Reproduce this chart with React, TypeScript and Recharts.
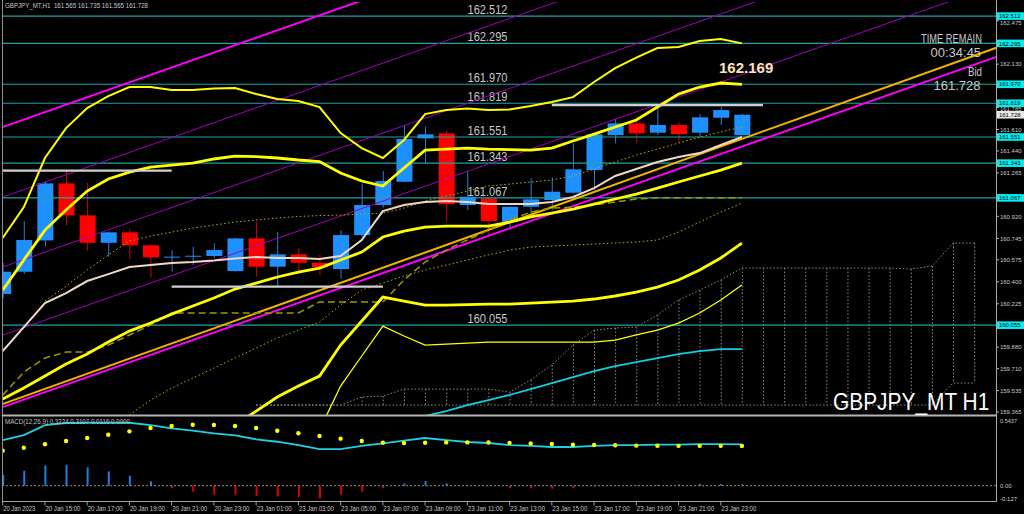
import React from 'react';
import { ComposedChart, Bar, Line, XAxis, YAxis, ReferenceLine } from 'recharts';

const FONT = "'Liberation Sans', Arial, sans-serif";

// ---- candles (GBPJPY H1, 20 Jan 13:00 .. 24 Jan 00:00) ----
const opens = [160.303, 160.48, 160.729, 161.182, 160.928, 160.71, 160.793, 160.69, 160.594, 160.6, 160.605, 160.485, 160.745, 160.52, 160.618, 160.551, 160.501, 160.771, 161.01, 161.195, 161.54, 161.58, 161.01, 161.063, 160.877, 160.996, 161.05, 161.108, 161.288, 161.566, 161.659, 161.585, 161.646, 161.585, 161.704, 161.565];
const highs = [160.55, 160.882, 161.201, 161.283, 161.185, 160.8, 160.819, 160.7, 160.652, 160.679, 160.705, 160.75, 160.877, 160.798, 160.671, 160.613, 160.811, 161.182, 161.28, 161.646, 161.633, 161.601, 161.283, 161.07, 161.0, 161.222, 161.23, 161.5, 161.58, 161.694, 161.712, 161.805, 161.668, 161.733, 161.791, 161.735];
const lows = [160.27, 160.461, 160.679, 160.851, 160.647, 160.599, 160.581, 160.432, 160.48, 160.533, 160.59, 160.48, 160.44, 160.361, 160.48, 160.453, 160.427, 160.753, 160.99, 161.19, 161.341, 160.877, 160.97, 160.771, 160.829, 160.931, 160.97, 161.1, 161.129, 161.5, 161.505, 161.566, 161.505, 161.553, 161.646, 161.565];
const closes = [160.48, 160.732, 161.182, 160.928, 160.71, 160.793, 160.69, 160.594, 160.6, 160.607, 160.652, 160.745, 160.52, 160.618, 160.551, 160.515, 160.771, 161.01, 161.201, 161.535, 161.572, 161.016, 161.076, 160.883, 160.996, 161.055, 161.116, 161.294, 161.572, 161.659, 161.58, 161.646, 161.574, 161.707, 161.765, 161.728];

// ---- indicator lines ----
const bandOuter = [160.748, 160.994, 161.384, 161.622, 161.781, 161.876, 161.948, 161.948, 161.924, 161.924, 161.936, 161.94, 161.892, 161.853, 161.837, 161.789, 161.582, 161.463, 161.384, 161.527, 161.733, 161.765, 161.777, 161.765, 161.769, 161.797, 161.829, 161.868, 161.988, 162.099, 162.182, 162.258, 162.266, 162.314, 162.33, 162.295];
const bandMid = [160.334, 160.573, 160.811, 160.97, 161.121, 161.217, 161.272, 161.312, 161.328, 161.344, 161.376, 161.399, 161.395, 161.384, 161.368, 161.356, 161.264, 161.201, 161.161, 161.304, 161.447, 161.455, 161.463, 161.455, 161.451, 161.447, 161.463, 161.519, 161.574, 161.63, 161.686, 161.789, 161.892, 161.948, 161.98, 161.97];
const bandLow = [159.468, 159.555, 159.651, 159.746, 159.826, 159.921, 160.008, 160.072, 160.143, 160.207, 160.271, 160.342, 160.39, 160.438, 160.477, 160.509, 160.573, 160.636, 160.756, 160.803, 160.835, 160.843, 160.843, 160.843, 160.875, 160.915, 160.946, 160.978, 161.018, 161.058, 161.097, 161.145, 161.193, 161.241, 161.288, 161.343];
const bandLow2 = [null, null, null, null, null, null, null, null, null, null, null, 159.261, 159.372, 159.484, 159.571, 159.65, 159.897, 160.088, 160.278, 160.247, 160.215, 160.215, 160.219, 160.223, 160.223, 160.231, 160.239, 160.247, 160.263, 160.287, 160.318, 160.358, 160.414, 160.493, 160.589, 160.708];
const bandLow3 = [null, null, null, null, null, null, null, null, null, null, null, null, null, null, null, 159.221, 159.571, 159.81, 160.048, 159.969, 159.897, 159.905, 159.913, 159.921, 159.921, 159.921, 159.921, 159.921, 159.921, 159.937, 159.977, 160.016, 160.072, 160.152, 160.255, 160.374];
const maWheat = [159.849, 160.04, 160.231, 160.31, 160.406, 160.461, 160.517, 160.533, 160.549, 160.557, 160.569, 160.585, 160.597, 160.589, 160.589, 160.581, 160.605, 160.732, 160.962, 161.01, 161.034, 161.042, 161.034, 161.018, 161.018, 161.018, 161.034, 161.074, 161.145, 161.241, 161.296, 161.352, 161.392, 161.423, 161.487, 161.551];
const dotUpper = [null, null, 160.247, 160.366, 160.493, 160.613, 160.724, 160.764, 160.795, 160.827, 160.851, 160.875, 160.891, 160.907, 160.919, 160.926, 160.93, 160.938, 160.946, 160.986, 161.042, 161.082, 161.121, 161.161, 161.177, 161.193, 161.209, 161.241, 161.296, 161.352, 161.408, 161.455, 161.503, 161.55, 161.59, 161.63];
const dotLower = [null, null, null, null, null, null, 159.341, 159.46, 159.555, 159.635, 159.714, 159.794, 159.873, 159.953, 160.016, 160.08, 160.215, 160.334, 160.39, 160.446, 160.493, 160.533, 160.573, 160.613, 160.652, 160.676, 160.684, 160.692, 160.7, 160.708, 160.716, 160.732, 160.795, 160.875, 160.955, 161.026];
const kijun = [159.499, 159.682, 159.794, 159.841, 159.841, 159.897, 159.977, 160.056, 160.152, 160.152, 160.152, 160.152, 160.152, 160.152, 160.152, 160.239, 160.239, 160.239, 160.239, 160.414, 160.557, 160.652, 160.732, 160.811, 160.891, 160.954, 160.986, 160.994, 161.01, 161.034, 161.058, 161.067, 161.067, 161.067, 161.067, 161.067];
const cyanLine = [null, null, null, null, null, null, null, null, null, null, null, null, null, null, null, null, null, null, null, null, 159.333, 159.372, 159.42, 159.46, 159.5, 159.547, 159.595, 159.642, 159.69, 159.73, 159.762, 159.794, 159.825, 159.849, 159.865, 159.865];

// ---- cloud (bars 12 .. 46) ----
const cloudStart = 12;
const cloudTop = [159.42, 159.42, 159.42, 159.42, 159.42, 159.484, 159.491, 159.547, 159.547, 159.547, 159.547, 159.547, 159.523, 159.619, 159.738, 159.897, 160.016, 160.032, 160.04, 160.136, 160.255, 160.334, 160.414, 160.509, 160.509, 160.509, 160.509, 160.509, 160.509, 160.509, 160.509, 160.501, 160.525, 160.708, 160.708];
const cloudBottom = [159.42, 159.42, 159.42, 159.42, 159.42, 159.42, 159.42, 159.42, 159.42, 159.42, 159.42, 159.42, 159.42, 159.42, 159.42, 159.42, 159.42, 159.42, 159.42, 159.42, 159.42, 159.42, 159.42, 159.42, 159.42, 159.42, 159.42, 159.42, 159.42, 159.42, 159.42, 159.42, 159.42, 159.595, 159.595];

// ---- MACD ----
const macdLine = [0.356, 0.395, 0.473, 0.489, 0.491, 0.491, 0.491, 0.473, 0.448, 0.429, 0.409, 0.392, 0.362, 0.343, 0.317, 0.286, 0.286, 0.31, 0.331, 0.351, 0.372, 0.356, 0.341, 0.333, 0.317, 0.31, 0.302, 0.302, 0.31, 0.317, 0.317, 0.32, 0.321, 0.325, 0.324, 0.3224];
const macdSignal = [0.273, 0.296, 0.323, 0.349, 0.372, 0.398, 0.424, 0.45, 0.466, 0.476, 0.474, 0.466, 0.45, 0.429, 0.409, 0.388, 0.367, 0.349, 0.335, 0.333, 0.335, 0.338, 0.338, 0.337, 0.334, 0.33, 0.325, 0.32, 0.317, 0.315, 0.313, 0.312, 0.311, 0.311, 0.311, 0.3107];
const macdHist = [0.086, 0.117, 0.159, 0.164, 0.143, 0.112, 0.078, 0.034, -0.018, -0.047, -0.07, -0.07, -0.08, -0.085, -0.09, -0.098, -0.07, -0.047, -0.018, 0.018, 0.037, 0.018, 0.003, -0.004, -0.017, -0.02, -0.023, -0.018, -0.007, 0.002, 0.004, 0.008, 0.01, 0.014, 0.013, 0.0116];

// ---- levels, trend lines, ticks ----
const levels = [162.512, 162.295, 161.97, 161.819, 161.551, 161.343, 161.067, 160.055];
const bidPrice = 161.728;
const channelBase = [{ idx: -1, price: 159.345 }, { idx: 48, price: 162.244 }];
const channelOffsets = [2.226, 1.669, 1.113, 0.572, 0];
const goldLine = [{ idx: -1, price: 159.368 }, { idx: 48, price: 162.318 }];
const swingLines = [{ from: 0, to: 8, price: 161.283 }, { from: 8, to: 18, price: 160.361 }, { from: 26, to: 36, price: 161.805 }];
const priceTicks = [162.475, 162.13, 161.785, 161.61, 161.44, 161.265, 160.92, 160.745, 160.575, 160.4, 160.225, 159.88, 159.71, 159.535, 159.365];
const macdTicks = [0.5437, 0, -0.127];
const macdTickLabels = ['0.5437', '0.00', '-0.127'];
const tickIdx = [0, 2, 4, 6, 8, 10, 12, 14, 16, 18, 20, 22, 24, 26, 28, 30, 32, 34];
const timeLabels = ['20 Jan 2023', '20 Jan 15:00', '20 Jan 17:00', '20 Jan 19:00', '20 Jan 21:00', '20 Jan 23:00', '23 Jan 01:00', '23 Jan 03:00', '23 Jan 05:00', '23 Jan 07:00', '23 Jan 09:00', '23 Jan 11:00', '23 Jan 13:00', '23 Jan 15:00', '23 Jan 17:00', '23 Jan 19:00', '23 Jan 21:00', '23 Jan 23:00'];

const X_DOMAIN: [number, number] = [-0.0331, 47.031];
const Y_DOMAIN: [number, number] = [159.341, 162.624];
const M_DOMAIN: [number, number] = [-0.127, 0.5437];

const TOTAL = 47;
const rows = Array.from({ length: TOTAL }, (_, i) => {
  const has = i < opens.length;
  const ci = i - cloudStart;
  const inCloud = ci >= 0 && ci < cloudTop.length;
  return {
    idx: i,
    o: has ? opens[i] : null,
    h: has ? highs[i] : null,
    l: has ? lows[i] : null,
    c: has ? closes[i] : null,
    candle: has ? [lows[i], highs[i]] : null,
    bandOuter: bandOuter[i] ?? null,
    bandMid: bandMid[i] ?? null,
    bandLow: bandLow[i] ?? null,
    bandLow2: bandLow2[i] ?? null,
    bandLow3: bandLow3[i] ?? null,
    maWheat: maWheat[i] ?? null,
    dotUpper: dotUpper[i] ?? null,
    dotLower: dotLower[i] ?? null,
    kijun: kijun[i] ?? null,
    cyanLine: cyanLine[i] ?? null,
    cloudTop: inCloud ? cloudTop[ci] : null,
    cloudBottom: inCloud ? cloudBottom[ci] : null,
    cloud: inCloud ? [cloudBottom[ci], cloudTop[ci]] : null,
    macd: macdLine[i] ?? null,
    signal: macdSignal[i] ?? null,
    hist: macdHist[i] ?? null,
  };
});

const CandleShape = (props: any) => {
  const { x, y, width, height, payload } = props;
  if (!payload || payload.o == null) return null;
  const { o, h, l, c } = payload;
  const top = Math.min(y, y + height);
  const bot = Math.max(y, y + height);
  const span = h - l || 1e-9;
  const yOf = (v: number) => top + ((h - v) / span) * (bot - top);
  const up = c >= o;
  const fill = up ? '#1E90FF' : '#FF0000';
  const wick = up ? '#2A7FD4' : '#D00000';
  const cx = x + width / 2;
  const bTop = yOf(Math.max(o, c));
  const bBot = yOf(Math.min(o, c));
  return (
    <g>
      <line x1={cx} x2={cx} y1={top} y2={bot} stroke={wick} strokeWidth={1} />
      <rect x={x} y={bTop} width={width} height={Math.max(bBot - bTop, 1)} fill={fill} />
    </g>
  );
};

const CloudShape = (props: any) => {
  const { x, y, width, height, payload } = props;
  if (!payload || payload.cloudTop == null) return null;
  const top = Math.min(y, y + height);
  const bot = Math.max(y, y + height);
  if (bot - top < 2) return null;
  const cx = x + width / 2;
  return <line x1={cx} x2={cx} y1={top} y2={bot} stroke="#8c8c8c" strokeWidth={1} strokeDasharray="1.5 2" />;
};

const HistShape = (props: any) => {
  const { x, y, width, height, payload } = props;
  if (!payload || payload.hist == null) return null;
  const top = Math.min(y, y + height);
  const h = Math.abs(height);
  return <rect x={x} y={top} width={width} height={Math.max(h, 0.5)} fill={payload.hist >= 0 ? '#1E7FE0' : '#E00000'} />;
};

const LevelTag = (props: any) => {
  const { viewBox, lvl, inner } = props;
  if (!viewBox) return null;
  const y = viewBox.y;
  const right = viewBox.x + viewBox.width;
  const txt = Number(lvl).toFixed(3);
  return (
    <g>
      {inner && (
        <text x={viewBox.x + 465.5} y={y - 2.3} fontSize={12.5} fill="#c8c8c8" fontFamily={FONT} textLength={40} lengthAdjust="spacingAndGlyphs">
          {txt}
        </text>
      )}
      <rect x={right + 1} y={y - 3.8} width={27} height={7.6} fill={inner ? '#00F0F0' : '#E8E8E8'} />
      <text x={right + 3} y={y + 2.2} fontSize={6.2} fill="#000" fontFamily={FONT} textLength={21.5} lengthAdjust="spacingAndGlyphs">
        {txt}
      </text>
    </g>
  );
};

const PriceTick = (props: any) => {
  const { x, y, payload } = props;
  const v = Number(payload.value);
  const txt = v.toFixed(3);
  const nudge = v === 162.475 ? 2.2 : v === 161.785 ? 1.2 : 0;
  return (
    <text x={x} y={y + 2.2 + nudge} fontSize={6.2} fill="#c8c8c8" fontFamily={FONT} textLength={21.5} lengthAdjust="spacingAndGlyphs">
      {txt}
    </text>
  );
};

const MacdTick = (props: any) => {
  const { x, y, payload, index } = props;
  const i = macdTicks.indexOf(payload.value);
  const txt = macdTickLabels[i >= 0 ? i : index] ?? '';
  const dy = i === 0 ? 7 : i === 2 ? -1.4 : 2.3;
  return (
    <text x={x} y={y + dy} fontSize={6.2} fill="#c8c8c8" fontFamily={FONT} textLength={txt.length * 2.85} lengthAdjust="spacingAndGlyphs">
      {txt}
    </text>
  );
};

const TimeTick = (props: any) => {
  const { x, y, payload } = props;
  const i = tickIdx.indexOf(payload.value);
  const label = timeLabels[i] ?? '';
  return (
    <g>
      <line x1={x} x2={x} y1={y} y2={y + 3.5} stroke="#a0a0a0" strokeWidth={1} />
      <text x={x + 0.5} y={y + 8.8} fontSize={6.3} fill="#c8c8c8" fontFamily={FONT} textLength={label.length * 2.92} lengthAdjust="spacingAndGlyphs">
        {label}
      </text>
    </g>
  );
};

// a text drawn with a font size that gives its natural width, stretched vertically
const Tall = ({ x, y, size, sy, fill, bold, children }: any) => (
  <text
    transform={`translate(${x} ${y}) scale(1 ${sy})`}
    x={0}
    y={0}
    fontSize={size}
    fill={fill}
    fontWeight={bold ? 'bold' : 'normal'}
    fontFamily={FONT}
  >
    {children}
  </text>
);

export default function App() {
  return (
    <div style={{ position: 'absolute', left: 0, top: 0, width: 1024, height: 514, background: '#000', overflow: 'hidden' }}>
      <div style={{ position: 'absolute', left: 0, top: 0 }}>
        <ComposedChart width={1024} height={416} data={rows} margin={{ top: 2, right: 0, bottom: 1, left: 2 }}>
          <XAxis type="number" dataKey="idx" domain={X_DOMAIN} allowDataOverflow hide />
          <XAxis xAxisId="cx" type="number" dataKey="idx" domain={X_DOMAIN} allowDataOverflow hide />
          <YAxis
            orientation="right"
            width={28}
            domain={Y_DOMAIN}
            allowDataOverflow
            ticks={priceTicks}
            interval={0}
            axisLine={false}
            tickLine={{ stroke: '#b0b0b0' }}
            tickSize={3}
            tickMargin={1}
            tick={(p: any) => <PriceTick {...p} />}
          />
          <YAxis yAxisId="cy" orientation="right" width={0} domain={Y_DOMAIN} allowDataOverflow hide />

          {levels.map((lv) => (
            <ReferenceLine key={'lv' + lv} y={lv} stroke="#1FA3A3" strokeWidth={1.2} label={<LevelTag lvl={lv} inner />} />
          ))}

          {channelOffsets.map((off, i) => {
            const outer = i === 0 || i === channelOffsets.length - 1;
            return (
              <ReferenceLine
                key={'ch' + i}
                segment={[
                  { x: channelBase[0].idx, y: channelBase[0].price + off },
                  { x: channelBase[1].idx, y: channelBase[1].price + off },
                ]}
                stroke={outer ? '#FF00FF' : '#A000B8'}
                strokeWidth={outer ? 2 : 1}
                ifOverflow="hidden"
              />
            );
          })}
          <ReferenceLine
            segment={[
              { x: goldLine[0].idx, y: goldLine[0].price },
              { x: goldLine[1].idx, y: goldLine[1].price },
            ]}
            stroke="#F0B400"
            strokeWidth={2}
            ifOverflow="hidden"
          />

          <Line dataKey="cloudTop" stroke="#8c8c8c" strokeWidth={1} strokeDasharray="1.5 2" dot={false} activeDot={false} isAnimationActive={false} />
          <Line dataKey="cloudBottom" stroke="#8c8c8c" strokeWidth={1} strokeDasharray="1.5 2" dot={false} activeDot={false} isAnimationActive={false} />
          <Bar xAxisId="cx" yAxisId="cy" dataKey="cloud" barSize={2} shape={(p: any) => <CloudShape {...p} />} isAnimationActive={false} />

          <Line dataKey="cyanLine" stroke="#10D0E0" strokeWidth={1.8} dot={false} activeDot={false} isAnimationActive={false} />
          <Line dataKey="kijun" stroke="#9A9A00" strokeWidth={1.5} strokeDasharray="7 4" dot={false} activeDot={false} isAnimationActive={false} />
          <Line dataKey="dotUpper" stroke="#B4B400" strokeWidth={1} strokeDasharray="1.5 2.5" dot={false} activeDot={false} isAnimationActive={false} />
          <Line dataKey="dotLower" stroke="#B4B400" strokeWidth={1} strokeDasharray="1.5 2.5" dot={false} activeDot={false} isAnimationActive={false} />

          <Bar dataKey="candle" barSize={16} shape={(p: any) => <CandleShape {...p} />} isAnimationActive={false} />

          <Line dataKey="maWheat" stroke="#F2D8C4" strokeWidth={2} dot={false} activeDot={false} isAnimationActive={false} />
          <Line dataKey="bandOuter" stroke="#FFFF00" strokeWidth={2} dot={false} activeDot={false} isAnimationActive={false} />
          <Line dataKey="bandMid" stroke="#FFFF00" strokeWidth={2.8} dot={false} activeDot={false} isAnimationActive={false} />
          <Line dataKey="bandLow" stroke="#FFFF00" strokeWidth={2.8} dot={false} activeDot={false} isAnimationActive={false} />
          <Line dataKey="bandLow2" stroke="#FFFF00" strokeWidth={2.8} dot={false} activeDot={false} isAnimationActive={false} />
          <Line dataKey="bandLow3" stroke="#FFFF00" strokeWidth={1.3} dot={false} activeDot={false} isAnimationActive={false} />

          {swingLines.map((s) => (
            <ReferenceLine
              key={'sw' + s.from}
              segment={[
                { x: s.from, y: s.price },
                { x: s.to, y: s.price },
              ]}
              stroke="#D0D0D0"
              strokeWidth={2.2}
              ifOverflow="hidden"
            />
          ))}

          <ReferenceLine y={bidPrice} stroke="none" strokeOpacity={0} label={<LevelTag lvl={bidPrice} inner={false} />} />
        </ComposedChart>
      </div>

      <div style={{ position: 'absolute', left: 0, top: 416 }}>
        <ComposedChart width={1024} height={98} data={rows} margin={{ top: 0, right: 0, bottom: 0, left: 2 }}>
          <XAxis
            type="number"
            dataKey="idx"
            domain={X_DOMAIN}
            allowDataOverflow
            ticks={tickIdx}
            interval={0}
            height={12}
            axisLine={false}
            tickLine={false}
            tickSize={0}
            tickMargin={0}
            tick={(p: any) => <TimeTick {...p} />}
          />
          <YAxis
            orientation="right"
            width={28}
            domain={M_DOMAIN}
            allowDataOverflow
            ticks={macdTicks}
            interval={0}
            axisLine={false}
            tickLine={false}
            tickSize={0}
            tickMargin={4}
            tick={(p: any) => <MacdTick {...p} />}
          />
          <ReferenceLine y={0} stroke="#909090" strokeDasharray="2 2" />
          <Bar dataKey="hist" barSize={2} shape={(p: any) => <HistShape {...p} />} isAnimationActive={false} />
          <Line dataKey="macd" stroke="#1FD0E0" strokeWidth={1.8} dot={false} activeDot={false} isAnimationActive={false} />
          <Line dataKey="signal" stroke="none" dot={{ r: 2.2, fill: '#FFFF00', stroke: 'none' }} activeDot={false} isAnimationActive={false} />
        </ComposedChart>
      </div>

      <svg width={1024} height={514} style={{ position: 'absolute', left: 0, top: 0, pointerEvents: 'none' }}>
        <line x1={2.5} y1={0} x2={2.5} y2={502} stroke="#909090" strokeWidth={1} />
        <line x1={996.5} y1={0} x2={996.5} y2={502} stroke="#a8a8a8" strokeWidth={1} />
        <line x1={2} y1={415.5} x2={997} y2={415.5} stroke="#b4b4b4" strokeWidth={2} />
        <line x1={2} y1={501.5} x2={997} y2={501.5} stroke="#a8a8a8" strokeWidth={1} />

        <text x={5} y={7.6} fontSize={6.5} fill="#c8c8c8" fontFamily={FONT} style={{ whiteSpace: 'pre' }} textLength={143} lengthAdjust="spacingAndGlyphs">
          {'GBPJPY_MT,H1  161.565 161.735 161.565 161.728'}
        </text>

        <Tall x={921} y={42.5} size={9.3} sy={1.4} fill="#c8c8c8">TIME REMAIN</Tall>
        <Tall x={930.5} y={56.5} size={13} sy={1} fill="#c8c8c8">00:34:45</Tall>
        <Tall x={968} y={76} size={9.7} sy={1.34} fill="#c8c8c8">Bid</Tall>
        <Tall x={933.5} y={90} size={13} sy={1} fill="#c8c8c8">161.728</Tall>

        <Tall x={719} y={72.5} size={15} sy={1} fill="#FFE2BC" bold>162.169</Tall>

        <Tall x={833} y={410} size={20.9} sy={1.12} fill="#ffffff">GBPJPY_MT H1</Tall>

        <text x={5} y={424} fontSize={6.5} fill="#c0c0c0" fontFamily={FONT} textLength={125} lengthAdjust="spacingAndGlyphs">
          MACD(12,26,9) 0.3224 0.3107 0.0116 0.0000
        </text>
      </svg>
    </div>
  );
}
